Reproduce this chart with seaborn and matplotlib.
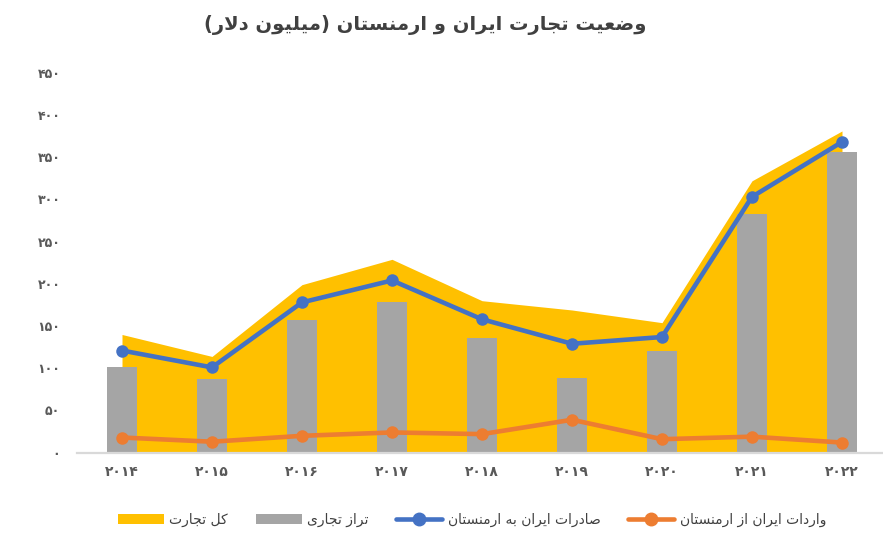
import numpy as np
import pandas as pd
import matplotlib
matplotlib.use("Agg")
import matplotlib.pyplot as plt
from matplotlib.patches import Patch
from matplotlib.lines import Line2D
import seaborn as sns

# ---------------- data ----------------
years = [2014, 2015, 2016, 2017, 2018, 2019, 2020, 2021, 2022]
total_trade = [140, 114, 199, 229, 180, 169, 154, 322, 381]
trade_balance = [102, 87, 157, 179, 136, 88, 120, 283, 356]
exports = [121, 101, 178, 204, 158, 129, 137, 303, 368]
imports = [18, 13, 20, 24, 22, 39, 16, 19, 12]
y_ticks = [0, 50, 100, 150, 200, 250, 300, 350, 400, 450]

title_text = "وضعیت تجارت ایران و ارمنستان (میلیون دلار)"
lbl_total = "کل تجارت"
lbl_balance = "تراز تجاری"
lbl_exports = "صادرات ایران به ارمنستان"
lbl_imports = "واردات ایران از ارمنستان"

# ---------------- minimal Persian shaping ----------------
DUAL = {
    'ب': (0xFE8F, 0xFE90, 0xFE91, 0xFE92), 'ت': (0xFE95, 0xFE96, 0xFE97, 0xFE98),
    'ث': (0xFE99, 0xFE9A, 0xFE9B, 0xFE9C), 'ج': (0xFE9D, 0xFE9E, 0xFE9F, 0xFEA0),
    'ح': (0xFEA1, 0xFEA2, 0xFEA3, 0xFEA4), 'خ': (0xFEA5, 0xFEA6, 0xFEA7, 0xFEA8),
    'س': (0xFEB1, 0xFEB2, 0xFEB3, 0xFEB4), 'ش': (0xFEB5, 0xFEB6, 0xFEB7, 0xFEB8),
    'ص': (0xFEB9, 0xFEBA, 0xFEBB, 0xFEBC), 'ض': (0xFEBD, 0xFEBE, 0xFEBF, 0xFEC0),
    'ط': (0xFEC1, 0xFEC2, 0xFEC3, 0xFEC4), 'ظ': (0xFEC5, 0xFEC6, 0xFEC7, 0xFEC8),
    'ع': (0xFEC9, 0xFECA, 0xFECB, 0xFECC), 'غ': (0xFECD, 0xFECE, 0xFECF, 0xFED0),
    'ف': (0xFED1, 0xFED2, 0xFED3, 0xFED4), 'ق': (0xFED5, 0xFED6, 0xFED7, 0xFED8),
    'ك': (0xFED9, 0xFEDA, 0xFEDB, 0xFEDC), 'ل': (0xFEDD, 0xFEDE, 0xFEDF, 0xFEE0),
    'م': (0xFEE1, 0xFEE2, 0xFEE3, 0xFEE4), 'ن': (0xFEE5, 0xFEE6, 0xFEE7, 0xFEE8),
    'ه': (0xFEE9, 0xFEEA, 0xFEEB, 0xFEEC), 'ي': (0xFEF1, 0xFEF2, 0xFEF3, 0xFEF4),
    'ی': (0xFBFC, 0xFBFD, 0xFBFE, 0xFBFF), 'ک': (0xFB8E, 0xFB8F, 0xFB90, 0xFB91),
    'گ': (0xFB92, 0xFB93, 0xFB94, 0xFB95), 'پ': (0xFB56, 0xFB57, 0xFB58, 0xFB59),
    'چ': (0xFB7A, 0xFB7B, 0xFB7C, 0xFB7D),
}
RIGHT = {
    'ا': (0xFE8D, 0xFE8E), 'د': (0xFEA9, 0xFEAA), 'ذ': (0xFEAB, 0xFEAC),
    'ر': (0xFEAD, 0xFEAE), 'ز': (0xFEAF, 0xFEB0), 'و': (0xFEED, 0xFEEE),
    'ژ': (0xFB8A, 0xFB8B), 'آ': (0xFE81, 0xFE82), 'ة': (0xFE93, 0xFE94),
}
MIRROR = {'(': ')', ')': '('}


def shape(text):
    chars = list(text)
    n = len(chars)
    out = []
    i = 0
    while i < n:
        c = chars[i]
        prev = chars[i - 1] if i > 0 else ''
        joins_prev = prev in DUAL and (c in DUAL or c in RIGHT)
        if c == 'ل' and i + 1 < n and chars[i + 1] == 'ا':
            out.append(chr(0xFEFC if joins_prev else 0xFEFB))
            i += 2
            continue
        nxt = chars[i + 1] if i + 1 < n else ''
        joins_next = c in DUAL and (nxt in DUAL or nxt in RIGHT)
        if c in DUAL:
            f = DUAL[c]
            if joins_prev and joins_next:
                out.append(chr(f[3]))
            elif joins_prev:
                out.append(chr(f[1]))
            elif joins_next:
                out.append(chr(f[2]))
            else:
                out.append(chr(f[0]))
        elif c in RIGHT:
            f = RIGHT[c]
            out.append(chr(f[1] if joins_prev else f[0]))
        else:
            out.append(c)
        i += 1
    return ''.join(MIRROR.get(ch, ch) for ch in reversed(out))


FA_DIGITS = str.maketrans('0123456789', '۰۱۲۳۴۵۶۷۸۹')


def fa_num(v):
    return str(v).translate(FA_DIGITS)


# ---------------- style ----------------
sns.set_theme(style="white")
plt.rcParams['font.family'] = ['DejaVu Sans']
TXT = '#595959'
GOLD = '#FFC000'
GREY = '#A5A5A5'
BLUE = '#4472C4'
ORANGE = '#ED7D31'

df = pd.DataFrame({
    'pos': np.arange(len(years)),
    'year': [fa_num(y) for y in years],
    'total': total_trade,
    'balance': trade_balance,
    'exports': exports,
    'imports': imports,
})

fig = plt.figure(figsize=(8.83, 5.41), dpi=100)
W, H = 883, 541
ax = fig.add_axes([77 / W, 1 - 452.7 / H, (887 - 77) / W, (452.7 - 72.7) / H])

# area: total trade
ax.fill_between(df['pos'], 0, df['total'], color=GOLD, linewidth=0, zorder=1)

# bars: trade balance
sns.barplot(data=df, x='pos', y='balance', color=GREY, width=0.33,
            saturation=1, ax=ax, zorder=2, native_scale=True)
for p in ax.patches:
    p.set_zorder(2)
    p.set_edgecolor('none')

# lines
sns.lineplot(data=df, x='pos', y='exports', color=BLUE, linewidth=3.3,
             marker='o', markersize=9, markeredgewidth=0, ax=ax, zorder=4)
sns.lineplot(data=df, x='pos', y='imports', color=ORANGE, linewidth=3.3,
             marker='o', markersize=9, markeredgewidth=0, ax=ax, zorder=4)

ax.set_xlim(-0.5, len(years) - 0.5)
ax.set_ylim(0, 450)
ax.set_xticks(df['pos'])
ax.set_xticklabels(df['year'], color=TXT, fontsize=10, fontweight='bold')
ax.set_yticks(y_ticks)
ax.set_yticklabels([fa_num(v) for v in y_ticks], color=TXT, fontsize=9,
                   fontweight='bold')
ax.tick_params(axis='x', length=0, pad=9)
ax.tick_params(axis='y', length=0, pad=12)
ax.set_xlabel('')
ax.set_ylabel('')
for s in ['top', 'left', 'right']:
    ax.spines[s].set_visible(False)
ax.spines['bottom'].set_color('#D9D9D9')
ax.spines['bottom'].set_linewidth(1.6)
ax.spines['bottom'].set_zorder(5)
ax.grid(False)
ax.set_facecolor('white')

fig.text(425 / W, 1 - 25 / H, shape(title_text), ha='center', va='center',
         fontsize=14, fontweight='bold', color='#404040')

handles = [
    Patch(facecolor=GOLD, edgecolor='none'),
    Patch(facecolor=GREY, edgecolor='none'),
    Line2D([0], [0], color=BLUE, linewidth=3.3, marker='o', markersize=9),
    Line2D([0], [0], color=ORANGE, linewidth=3.3, marker='o', markersize=9),
]
labels = [shape(lbl_total), shape(lbl_balance), shape(lbl_exports), shape(lbl_imports)]
leg = fig.legend(handles, labels, loc='center', bbox_to_anchor=(472 / W, 1 - 520 / H),
                 ncol=4, frameon=False, fontsize=10, handlelength=3.3,
                 handleheight=0.75, handletextpad=0.4, columnspacing=2.0,
                 labelcolor='#404040')

fig.savefig('out.png', dpi=100, facecolor='white')
